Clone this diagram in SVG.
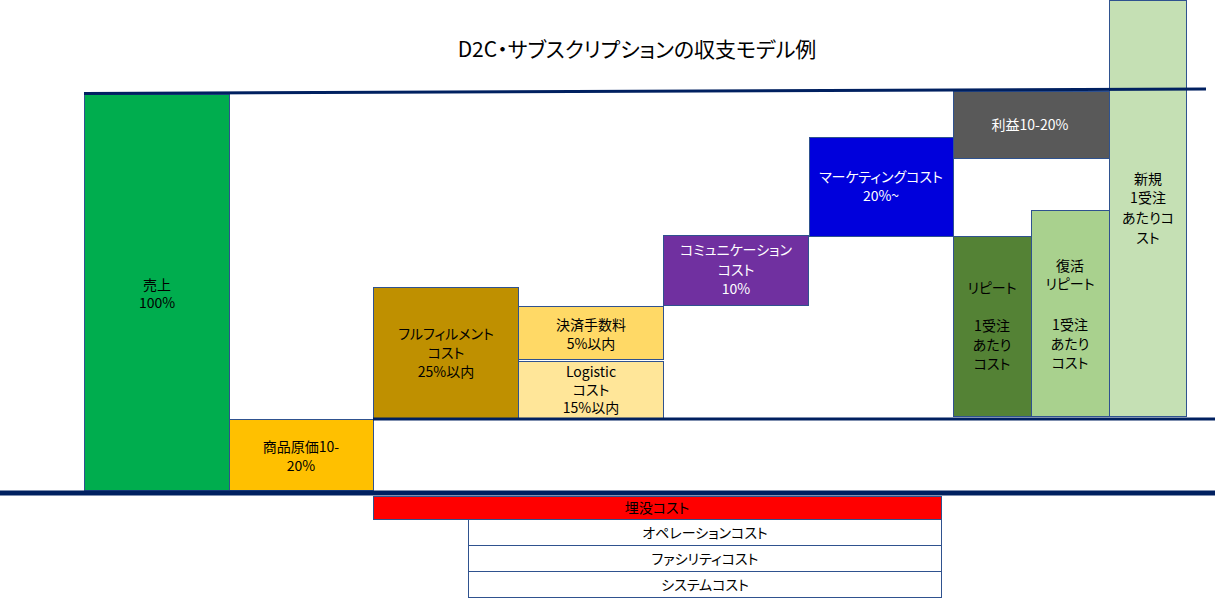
<svg xmlns="http://www.w3.org/2000/svg" width="1219" height="603" viewBox="0 0 1219 603">
<style>
.b{stroke:#2F528F;stroke-width:1}
text{font-family:"Meiryo UI","Noto Sans CJK JP","Noto Sans",sans-serif;font-size:14px;text-anchor:middle;fill:#000;font-feature-settings:"palt"}
.w{fill:#fff}
.ln{stroke:#002060;fill:none}
</style>
<rect width="1219" height="603" fill="#fff"/>
<text x="637" y="57" style="font-size:21px">D2C・サブスクリプションの収支モデル例</text>
<g id="uriage"><rect class="b" x="84.5" y="94.5" width="145" height="396" fill="#00AD4E"/><text x="157" y="290">売上</text><text x="157" y="308">100%</text></g>
<g id="genka"><rect class="b" x="229.5" y="419.5" width="144" height="71" fill="#FFC000"/><text x="301" y="452">商品原価10-</text><text x="301" y="471">20%</text></g>
<g id="fulfill"><rect class="b" x="373.5" y="287.5" width="145" height="131" fill="#BF9000"/><text x="446" y="339">フルフィルメント</text><text x="446" y="358">コスト</text><text x="446" y="377">25%以内</text></g>
<g id="kessai"><rect class="b" x="518.5" y="306.5" width="145" height="53" fill="#FFD966"/><text x="591" y="330">決済手数料</text><text x="591" y="349">5%以内</text></g>
<g id="logistic"><rect class="b" x="518.5" y="361.5" width="145" height="57" fill="#FFE699"/><text x="591" y="377">Logistic</text><text x="591" y="395">コスト</text><text x="591" y="413">15%以内</text></g>
<g id="comm"><rect class="b" x="663.5" y="235.5" width="145" height="70" fill="#7030A0"/><text class="w" x="736" y="255">コミュニケーション</text><text class="w" x="736" y="275">コスト</text><text class="w" x="736" y="294">10%</text></g>
<g id="marketing"><rect class="b" x="809.5" y="137.5" width="144" height="99" fill="#0000DC"/><text class="w" x="881" y="182">マーケティングコスト</text><text class="w" x="881" y="201">20%~</text></g>
<g id="rieki"><rect class="b" x="953.5" y="91.5" width="156" height="67" fill="#595959"/><text class="w" x="1030" y="130">利益10-20%</text></g>
<g id="repeat"><rect class="b" x="953.5" y="236.5" width="78" height="180" fill="#548235"/><text x="992" y="293">リピート</text><text x="992" y="331">1受注</text><text x="992" y="350">あたり</text><text x="992" y="369">コスト</text></g>
<g id="fukkatsu"><rect class="b" x="1031.5" y="210.5" width="78" height="206" fill="#A9D18E"/><text x="1070" y="271">復活</text><text x="1070" y="289">リピート</text><text x="1070" y="330">1受注</text><text x="1070" y="349">あたり</text><text x="1070" y="368">コスト</text></g>
<g id="shinki"><rect class="b" x="1109.5" y="0.5" width="77" height="416" fill="#C5E0B4"/><text x="1148" y="184">新規</text><text x="1148" y="203">1受注</text><text x="1148" y="223">あたりコ</text><text x="1148" y="243">スト</text></g>
<g id="connectors">
<line class="ln" x1="84" y1="93.5" x2="1206" y2="89" stroke-width="3"/>
<line class="ln" x1="373" y1="419" x2="1215" y2="419" stroke-width="3"/>
<line class="ln" x1="0" y1="493" x2="1215" y2="493" stroke-width="5"/>
</g>
<g id="maibotsu"><rect class="b" x="373.5" y="496.5" width="568" height="23" fill="#FF0000"/><text x="657" y="513">埋没コスト</text></g>
<g id="operation"><rect class="b" x="468.5" y="519.5" width="473" height="26" fill="#fff"/><text x="705" y="538">オペレーションコスト</text></g>
<g id="facility"><rect class="b" x="468.5" y="545.5" width="473" height="26" fill="#fff"/><text x="705" y="564">ファシリティコスト</text></g>
<g id="system"><rect class="b" x="468.5" y="571.5" width="473" height="26" fill="#fff"/><text x="705" y="590">システムコスト</text></g>
</svg>
